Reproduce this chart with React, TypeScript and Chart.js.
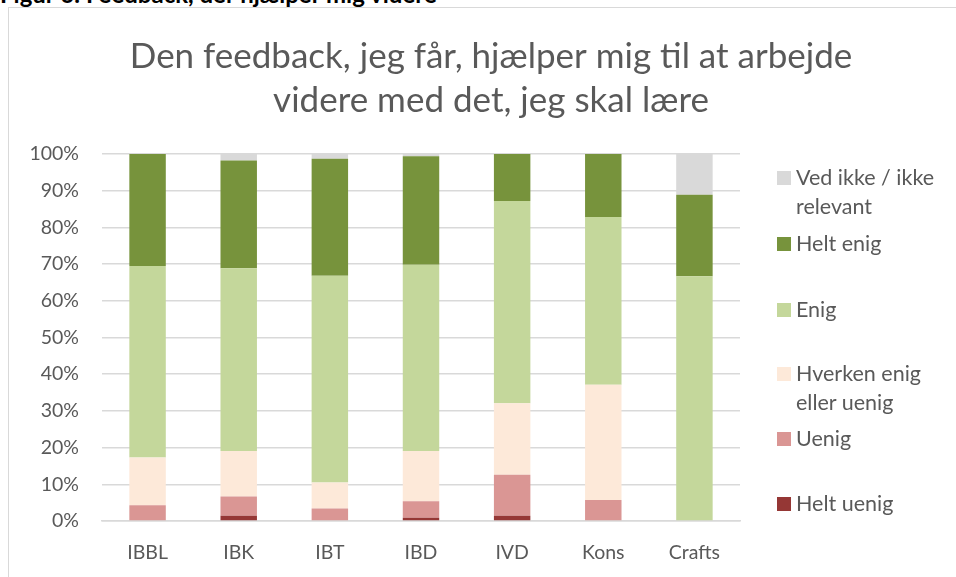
import React, { useEffect, useRef } from "react";
import { Chart, registerables } from "chart.js";

Chart.register(...registerables);

const categories = ["IBBL", "IBK", "IBT", "IBD", "IVD", "Kons", "Crafts"];
const heltUenig = [0, 1.4, 0, 0.9, 1.4, 0, 0];
const uenig = [4.3, 5.3, 3.4, 4.5, 11.2, 5.7, 0];
const hverken = [13.0, 12.4, 7.1, 13.7, 19.5, 31.4, 0];
const enig = [52.2, 49.8, 56.3, 50.7, 55.1, 45.7, 66.7];
const heltEnig = [30.5, 29.3, 31.9, 29.6, 12.8, 17.2, 22.2];
const vedIkke = [0, 1.8, 1.3, 0.6, 0, 0, 11.1];

const titleLines = ["Den feedback, jeg får, hjælper mig til at arbejde", "videre med det, jeg skal lære"];
const caption = "Figur 6: Feedback, der hjælper mig videre";

const series = [
  { label: "Helt uenig", lines: ["Helt uenig"], data: heltUenig, color: "#953735" },
  { label: "Uenig", lines: ["Uenig"], data: uenig, color: "#DA9694" },
  { label: "Hverken enig eller uenig", lines: ["Hverken enig", "eller uenig"], data: hverken, color: "#FDE9D9" },
  { label: "Enig", lines: ["Enig"], data: enig, color: "#C4D79B" },
  { label: "Helt enig", lines: ["Helt enig"], data: heltEnig, color: "#77933C" },
  { label: "Ved ikke / ikke relevant", lines: ["Ved ikke / ikke", "relevant"], data: vedIkke, color: "#D9D9D9" },
];

const legendTops = [489, 424, 359, 295, 229, 163];

const FONT = "Lato, 'Open Sans', sans-serif";
const GREY = "#595959";

export default function App() {
  const ref = useRef<HTMLCanvasElement>(null);
  useEffect(() => {
    if (!ref.current) return;
    const chart = new Chart(ref.current, {
      type: "bar",
      data: {
        labels: categories,
        datasets: series.map((s) => ({
          label: s.label,
          data: s.data,
          backgroundColor: s.color,
          borderColor: "#ffffff",
          borderWidth: 0,
          barPercentage: 0.4,
          categoryPercentage: 1,
        })),
      },
      options: {
        animation: false,
        responsive: false,
        maintainAspectRatio: false,
        layout: { padding: { left: 0, right: 0, top: 0, bottom: 0 } },
        plugins: {
          legend: { display: false },
          tooltip: { enabled: false },
          title: {
            display: true,
            text: titleLines,
            color: GREY,
            font: { family: FONT, size: 35, weight: "normal", lineHeight: 1.257 },
            padding: { top: 27, bottom: 31 },
          },
        },
        scales: {
          x: {
            stacked: true,
            grid: { display: false, drawTicks: false },
            border: { display: true, color: "#D9D9D9", width: 1.5 },
            ticks: { color: GREY, font: { family: FONT, size: 19.5 }, padding: 20 },
            afterFit: (s: any) => {
              s.height = 56;
            },
          },
          y: {
            stacked: true,
            min: 0,
            max: 100,
            grid: { color: "#D9D9D9", lineWidth: 1.5, drawTicks: false },
            border: { display: false },
            ticks: {
              stepSize: 10,
              color: GREY,
              font: { family: FONT, size: 19.5 },
              padding: 23,
              callback: (v: any) => v + "%",
            },
            afterFit: (s: any) => {
              s.width = 93;
            },
          },
          yRight: {
            type: "linear",
            position: "right",
            display: true,
            grid: { display: false, drawTicks: false },
            border: { display: false },
            ticks: { display: false },
            afterFit: (s: any) => {
              s.width = 233;
            },
          },
        },
      },
    });
    return () => chart.destroy();
  }, []);

  return (
    <div style={{ position: "absolute", left: 0, top: 0, width: 956, height: 577, overflow: "hidden", background: "#fff" }}>
      <div
        style={{
          position: "absolute",
          left: 0,
          top: -18,
          fontFamily: FONT,
          fontWeight: "bold",
          fontSize: 24,
          lineHeight: "24px",
          color: "#000",
          whiteSpace: "nowrap",
        }}
      >
        {caption}
      </div>
      <div
        style={{
          position: "absolute",
          left: 8,
          top: 7,
          width: 1000,
          height: 620,
          border: "1px solid #D9D9D9",
          boxSizing: "border-box",
          background: "#fff",
        }}
      >
        <canvas ref={ref} width={964} height={569} style={{ position: "absolute", left: 0, top: 0, width: 964, height: 569 }} />
      </div>
      {series.map((s, i) => (
        <div
          key={s.label}
          style={{
            position: "absolute",
            left: 777,
            top: legendTops[i],
            fontFamily: FONT,
            fontSize: 21.5,
            lineHeight: "29px",
            color: GREY,
            whiteSpace: "nowrap",
          }}
        >
          <span
            style={{
              position: "absolute",
              left: 0,
              top: 8,
              width: 14,
              height: 14,
              background: s.color,
            }}
          />
          <div style={{ paddingLeft: 19 }}>
            {s.lines.map((l) => (
              <div key={l}>{l}</div>
            ))}
          </div>
        </div>
      ))}
    </div>
  );
}
